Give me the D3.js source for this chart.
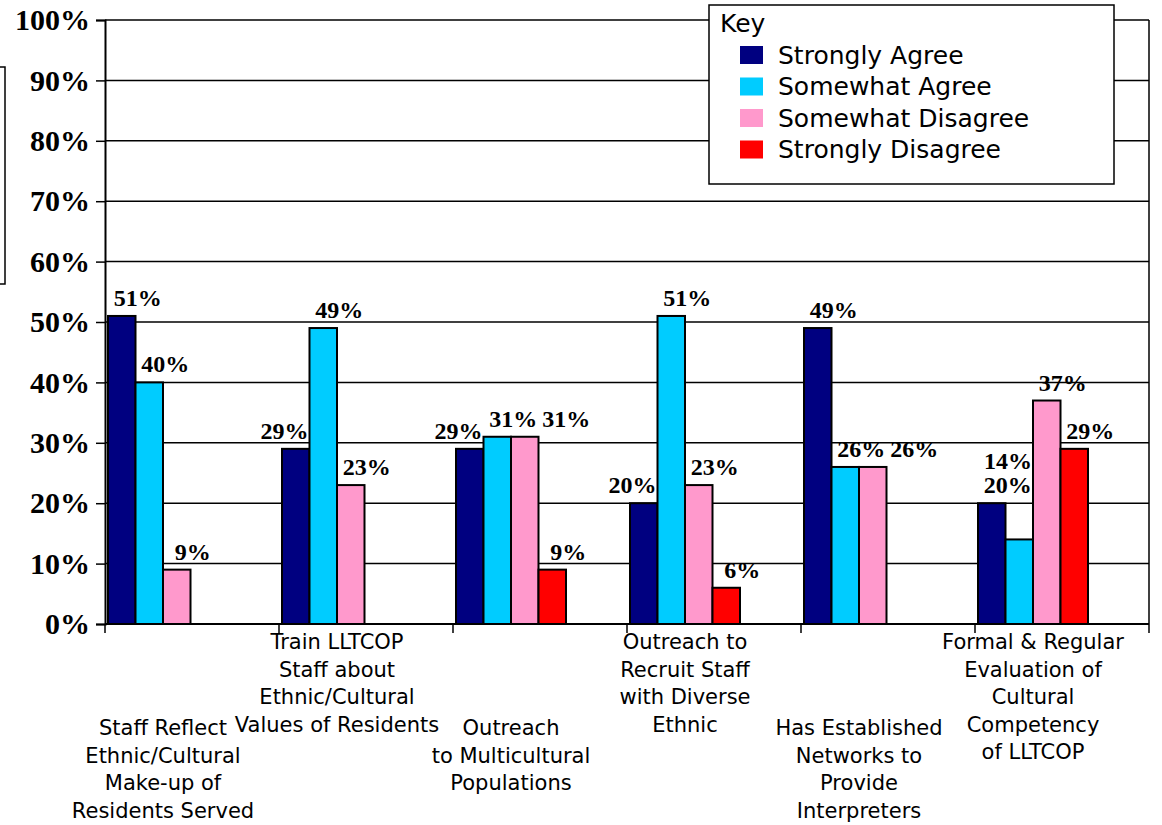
<!DOCTYPE html>
<html>
<head>
<meta charset="utf-8">
<script src="https://cdn.jsdelivr.net/npm/d3@7"></script>
<style>
  html, body { margin: 0; padding: 0; background: #fff; }
  svg { display: block; }
</style>
</head>
<body>
<svg id="chart" width="1162" height="825"></svg>
<script>
// ---------- data ----------
const categories = [
  ["Staff Reflect", "Ethnic/Cultural", "Make-up of", "Residents Served"],
  ["Train LLTCOP", "Staff about", "Ethnic/Cultural", "Values of Residents"],
  ["Outreach", "to Multicultural", "Populations"],
  ["Outreach to", "Recruit Staff", "with Diverse", "Ethnic"],
  ["Has Established", "Networks to", "Provide", "Interpreters"],
  ["Formal & Regular", "Evaluation of", "Cultural", "Competency", "of LLTCOP"]
];
const seriesNames = ["Strongly Agree", "Somewhat Agree", "Somewhat Disagree", "Strongly Disagree"];
const stronglyAgree    = [0.51, 0.29, 0.29, 0.20, 0.49, 0.20];
const somewhatAgree    = [0.40, 0.49, 0.31, 0.51, 0.26, 0.14];
const somewhatDisagree = [0.09, 0.23, 0.31, 0.23, 0.26, 0.37];
const stronglyDisagree = [0.00, 0.00, 0.09, 0.06, 0.00, 0.29];
const yTicks = [0, 0.1, 0.2, 0.3, 0.4, 0.5, 0.6, 0.7, 0.8, 0.9, 1.0];
const legendTitle = "Key";

const seriesValues = [stronglyAgree, somewhatAgree, somewhatDisagree, stronglyDisagree];
const colors = ["#000080", "#00CCFF", "#FF99CC", "#FF0000"];

// ---------- layout ----------
const svg = d3.select("#chart");
const plot = { left: 105, right: 1149, top: 20, bottom: 624 };
const catIdx = d3.range(categories.length);

const x = d3.scaleBand().domain(catIdx).range([plot.left, plot.right]).paddingInner(0).paddingOuter(0);
const xs = d3.scaleBand().domain(d3.range(seriesNames.length)).range([3, 113]);
const y = d3.scaleLinear().domain([0, 1]).range([plot.bottom, plot.top]);

// left cropped box (partial frame)
svg.append("rect").attr("x", -20).attr("y", 67).attr("width", 25).attr("height", 217)
  .attr("fill", "none").attr("stroke", "#000").attr("stroke-width", 1.5);

// gridlines
svg.append("g").selectAll("line").data(yTicks.filter(d => d > 0)).join("line")
  .attr("x1", plot.left).attr("x2", plot.right)
  .attr("y1", d => y(d)).attr("y2", d => y(d))
  .attr("stroke", "#000").attr("stroke-width", 1.5);

// right frame
svg.append("line").attr("x1", plot.right).attr("x2", plot.right)
  .attr("y1", plot.top).attr("y2", plot.bottom)
  .attr("stroke", "#000").attr("stroke-width", 1.5);

// y axis
const yAxis = d3.axisLeft(y).tickValues(yTicks).tickFormat(d3.format(".0%")).tickSize(9).tickPadding(6);
const gy = svg.append("g").attr("transform", `translate(${plot.left},0)`).call(yAxis);
gy.select(".domain").attr("stroke", "#000").attr("stroke-width", 2);
gy.selectAll(".tick line").attr("stroke", "#000").attr("stroke-width", 1.5);
gy.selectAll(".tick text")
  .attr("fill", "#000")
  .style("font-family", "'Liberation Serif', 'Times New Roman', serif")
  .style("font-weight", "bold")
  .style("font-size", "30px");

// bars
const barData = [];
catIdx.forEach(c => {
  seriesValues.forEach((vals, s) => {
    barData.push({ c, s, v: vals[c] });
  });
});
const bars = barData.filter(d => d.v > 0);
svg.append("g").selectAll("rect").data(bars).join("rect")
  .attr("x", d => x(d.c) + xs(d.s))
  .attr("width", xs.bandwidth())
  .attr("y", d => y(d.v))
  .attr("height", d => y(0) - y(d.v))
  .attr("fill", d => colors[d.s])
  .attr("stroke", "#000").attr("stroke-width", 2);

// x axis
svg.append("line").attr("x1", plot.left).attr("x2", plot.right)
  .attr("y1", plot.bottom).attr("y2", plot.bottom)
  .attr("stroke", "#000").attr("stroke-width", 2);
const xTickPos = catIdx.map(c => x(c)).concat([plot.right]);
svg.append("g").selectAll("line").data(xTickPos).join("line")
  .attr("x1", d => d).attr("x2", d => d)
  .attr("y1", plot.bottom).attr("y2", plot.bottom + 9)
  .attr("stroke", "#000").attr("stroke-width", 1.5);

// category labels
const catG = svg.append("g")
  .style("font-family", "'DejaVu Sans', Verdana, sans-serif")
  .style("font-size", "21px").attr("fill", "#000");
catIdx.forEach(c => {
  const cx = x(c) + xs(0) + (xs.range()[1] - xs.range()[0]) / 2;
  const y0 = plot.bottom + (c % 2 === 0 ? 104 : 18);
  const t = catG.append("text").attr("text-anchor", "middle");
  categories[c].forEach((line, i) => {
    t.append("tspan").attr("x", cx).attr("y", y0 + i * 27.5)
      .attr("dominant-baseline", "central").text(line);
  });
});

// value labels with simple collision avoidance
const labG = svg.append("g")
  .style("font-family", "'Liberation Serif', 'Times New Roman', serif")
  .style("font-weight", "bold").style("font-size", "24px").attr("fill", "#000");
const fmt = d3.format(".0%");
catIdx.forEach(c => {
  const placed = [];
  const groupBars = bars.filter(b => b.c === c);
  const boxes = groupBars.map(o => {
    const bx0 = x(c) + xs(o.s);
    return { s: o.s, x0: bx0, x1: bx0 + xs.bandwidth(), y0: y(o.v), y1: plot.bottom };
  });
  groupBars.forEach(b => {
    const t = labG.append("text").attr("text-anchor", "middle").text(fmt(b.v));
    const w = t.node().getComputedTextLength();
    const h = 18;
    const myBar = boxes.find(o => o.s === b.s);
    const hits = (cx, base) => {
      const L = { x0: cx - w / 2, x1: cx + w / 2, y0: base - h, y1: base + 3 };
      const obs = boxes.filter(o => o.s !== b.s).concat(placed);
      return obs.filter(o => L.x0 < o.x1 && L.x1 > o.x0 && L.y0 < o.y1 && L.y1 > o.y0);
    };
    const base0 = y(b.v) - 10;
    const cands = [];
    const cDefault = (myBar.x0 + myBar.x1) / 2 + 16;
    cands.push({ cx: cDefault, base: base0 });
    // shift left of the next bar
    const nextBar = boxes.find(o => o.s === b.s + 1);
    if (nextBar) cands.push({ cx: nextBar.x0 - w / 2 - 1, base: base0 });
    // shift right of last placed label
    if (placed.length) {
      const p = placed[placed.length - 1];
      cands.push({ cx: p.x1 + w / 2 + 5, base: base0 });
    }
    let chosen = cands.find(k => hits(k.cx, k.base).length === 0);
    if (!chosen) {
      // raise above obstacles at the left-shifted position
      const k = cands[1] || cands[0];
      let base = k.base, guard = 0, hs;
      while ((hs = hits(k.cx, base)).length && guard++ < 10) {
        base = d3.min(hs, o => o.y0) - 6;
      }
      chosen = { cx: k.cx, base };
    }
    placed.push({ x0: chosen.cx - w / 2, x1: chosen.cx + w / 2, y0: chosen.base - h, y1: chosen.base });
    t.attr("x", chosen.cx).attr("y", chosen.base);
  });
});

// legend
const lg = svg.append("g").attr("transform", "translate(709,5)");
lg.append("rect").attr("width", 405).attr("height", 179)
  .attr("fill", "#fff").attr("stroke", "#000").attr("stroke-width", 1.5);
lg.append("text").attr("x", 11).attr("y", 27).text(legendTitle)
  .style("font-family", "'DejaVu Sans', Verdana, sans-serif").style("font-size", "25px").attr("fill", "#000");
seriesNames.forEach((name, i) => {
  const cy = 50 + i * 31.5;
  lg.append("rect").attr("x", 31).attr("y", cy - 9).attr("width", 23).attr("height", 18)
    .attr("fill", colors[i]);
  lg.append("text").attr("x", 69).attr("y", cy).attr("dominant-baseline", "central")
    .text(name)
    .style("font-family", "'DejaVu Sans', Verdana, sans-serif").style("font-size", "25px").attr("fill", "#000");
});
</script>
</body>
</html>
